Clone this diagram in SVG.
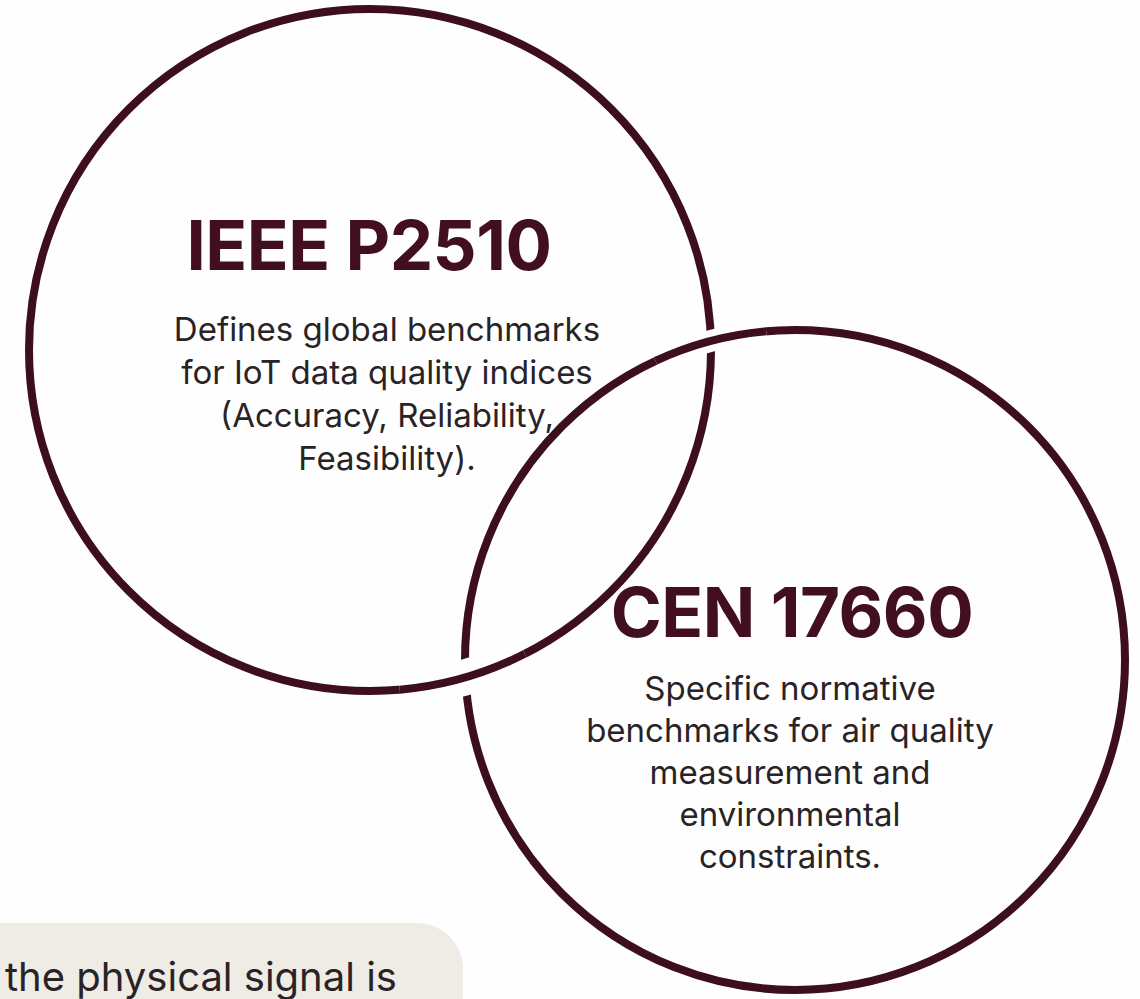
<svg xmlns="http://www.w3.org/2000/svg" width="1140" height="999" viewBox="0 0 1140 999">
  <style>
    .ring { fill: none; stroke: #3d0e1c; stroke-width: 8; }
    .halo { fill: none; stroke: #fefefe; }
    .title { font-family: Inter, "Liberation Sans", sans-serif; font-weight: 700; font-size: 69px; fill: #420f20; text-anchor: middle; letter-spacing: -0.5px; }
    .body { font-family: Inter, "Liberation Sans", sans-serif; font-weight: 400; font-size: 33px; fill: #2a2326; text-anchor: middle; }
    .note { font-family: Inter, "Liberation Sans", sans-serif; font-weight: 400; font-size: 40px; fill: #2a2326; }
  </style>
  <rect x="0" y="0" width="1140" height="999" fill="#fefefe"/>

  <g id="rings">
    <circle id="ring-ieee" class="ring" cx="370" cy="350" r="341"/>
    <circle id="ring-cen" class="ring" cx="795" cy="660" r="330"/>
    <!-- top crossing: CEN ring passes over -->
    <path class="halo" stroke-width="22" d="M 655.5 360.9 A 330 330 0 0 1 766.2 331.3"/>
    <path class="ring" d="M 655.5 360.9 A 330 330 0 0 1 766.2 331.3"/>
    <!-- bottom crossing: IEEE ring passes over -->
    <path class="halo" stroke-width="36" d="M 524.8 653.8 A 341 341 0 0 1 399.7 689.7"/>
    <path class="ring" d="M 524.8 653.8 A 341 341 0 0 1 399.7 689.7"/>
  </g>

  <g id="node-ieee">
    <text class="title" x="369" y="270">IEEE P2510</text>
    <text class="body" x="387" y="341">Defines global benchmarks</text>
    <text class="body" x="387" y="384">for IoT data quality indices</text>
    <text class="body" x="387" y="427">(Accuracy, Reliability,</text>
    <text class="body" x="387" y="470">Feasibility).</text>
  </g>

  <g id="node-cen">
    <text class="title" x="792" y="637">CEN 17660</text>
    <text class="body" x="790" y="700">Specific normative</text>
    <text class="body" x="790" y="742">benchmarks for air quality</text>
    <text class="body" x="790" y="784">measurement and</text>
    <text class="body" x="790" y="826">environmental</text>
    <text class="body" x="790" y="868">constraints.</text>
  </g>

  <g id="node-note">
    <rect x="-60" y="923" width="523" height="160" rx="46" fill="#eeece5"/>
    <text class="note" x="5" y="991">the physical signal is</text>
  </g>
</svg>
